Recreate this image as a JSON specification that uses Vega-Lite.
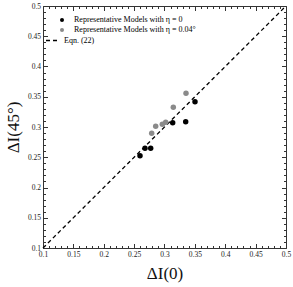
{
  "$schema": "https://vega.github.io/schema/vega-lite/v6.json",
  "width": 243,
  "height": 242,
  "autosize": {"type": "none"},
  "padding": {"left": 43, "top": 6, "right": 7, "bottom": 39},
  "background": "white",
  "config": {
    "view": {"stroke": null},
    "font": "Liberation Serif",
    "axis": {
      "grid": false,
      "domainColor": "#333333",
      "domainWidth": 1,
      "tickColor": "#333333",
      "labelFont": "Liberation Serif",
      "labelFontSize": 7.5,
      "labelColor": "#222222",
      "titleFont": "Liberation Serif",
      "titleFontWeight": "normal",
      "titleFontSize": 17,
      "titleColor": "#111111",
      "labelPadding": 7,
      "labelFlush": false,
      "labelOverlap": false
    },
    "legend": {
      "labelFont": "Liberation Serif",
      "labelFontSize": 8,
      "labelColor": "#000000",
      "padding": 0
    }
  },
  "datasets": {
    "pts": [
      {"x": 0.2597, "y": 0.2526, "series": "Representative Models with η = 0"},
      {"x": 0.2679, "y": 0.2648, "series": "Representative Models with η = 0"},
      {"x": 0.2773, "y": 0.2648, "series": "Representative Models with η = 0"},
      {"x": 0.3135, "y": 0.3071, "series": "Representative Models with η = 0"},
      {"x": 0.3349, "y": 0.3088, "series": "Representative Models with η = 0"},
      {"x": 0.3502, "y": 0.3418, "series": "Representative Models with η = 0"},
      {"x": 0.2789, "y": 0.2896, "series": "Representative Models with η = 0.04°"},
      {"x": 0.2855, "y": 0.3012, "series": "Representative Models with η = 0.04°"},
      {"x": 0.2964, "y": 0.3045, "series": "Representative Models with η = 0.04°"},
      {"x": 0.302, "y": 0.3078, "series": "Representative Models with η = 0.04°"},
      {"x": 0.3145, "y": 0.3326, "series": "Representative Models with η = 0.04°"},
      {"x": 0.3354, "y": 0.3557, "series": "Representative Models with η = 0.04°"}
    ],
    "eqn": [
      {"x": 0.1, "y": 0.1, "series": "Eqn. (22)"},
      {"x": 0.5, "y": 0.5, "series": "Eqn. (22)"}
    ]
  },
  "layer": [
    {
      "data": {"name": "eqn"},
      "mark": {"type": "line", "color": "black", "strokeWidth": 1.3},
      "encoding": {
        "x": {
          "field": "x", "type": "quantitative",
          "scale": {"domain": [0.1, 0.5], "nice": false, "zero": false},
          "axis": {
            "orient": "top", "title": null, "labels": false, "domain": true,
            "values": [0.1,0.11,0.12,0.13,0.14,0.15,0.16,0.17,0.18,0.19,0.2,0.21,0.22,0.23,0.24,0.25,0.26,0.27,0.28,0.29,0.3,0.31,0.32,0.33,0.34,0.35,0.36,0.37,0.38,0.39,0.4,0.41,0.42,0.43,0.44,0.45,0.46,0.47,0.48,0.49,0.5],
            "tickSize": {"condition": {"test": "abs(datum.value*20 - round(datum.value*20)) < 0.001", "value": -4.5}, "value": -2.5}
          }
        },
        "y": {
          "field": "y", "type": "quantitative",
          "scale": {"domain": [0.1, 0.5], "nice": false, "zero": false},
          "axis": {
            "orient": "right", "title": null, "labels": false, "domain": true,
            "values": [0.1,0.11,0.12,0.13,0.14,0.15,0.16,0.17,0.18,0.19,0.2,0.21,0.22,0.23,0.24,0.25,0.26,0.27,0.28,0.29,0.3,0.31,0.32,0.33,0.34,0.35,0.36,0.37,0.38,0.39,0.4,0.41,0.42,0.43,0.44,0.45,0.46,0.47,0.48,0.49,0.5],
            "tickSize": {"condition": {"test": "abs(datum.value*20 - round(datum.value*20)) < 0.001", "value": -4.5}, "value": -2.5}
          }
        },
        "strokeDash": {
          "field": "series", "type": "nominal",
          "scale": {"domain": ["Eqn. (22)"], "range": [[4, 3]]},
          "legend": {
            "title": null, "orient": "none", "legendX": 2, "legendY": 27,
            "symbolSize": 169, "symbolStrokeWidth": 1.5, "symbolStrokeColor": "black",
            "symbolDash": [4, 3],
            "labelOffset": 4
          }
        }
      }
    },
    {
      "data": {"name": "pts"},
      "mark": {"type": "point", "filled": true, "shape": "circle", "size": 30, "opacity": 1},
      "encoding": {
        "x": {
          "field": "x", "type": "quantitative",
          "scale": {"domain": [0.1, 0.5], "nice": false, "zero": false},
          "axis": {
            "orient": "bottom", "title": "ΔI(0)", "titlePadding": 5,
            "values": [0.1,0.11,0.12,0.13,0.14,0.15,0.16,0.17,0.18,0.19,0.2,0.21,0.22,0.23,0.24,0.25,0.26,0.27,0.28,0.29,0.3,0.31,0.32,0.33,0.34,0.35,0.36,0.37,0.38,0.39,0.4,0.41,0.42,0.43,0.44,0.45,0.46,0.47,0.48,0.49,0.5],
            "labelExpr": "abs(datum.value*20 - round(datum.value*20)) < 0.001 ? format(datum.value, '~g') : ''",
            "tickSize": {"condition": {"test": "abs(datum.value*20 - round(datum.value*20)) < 0.001", "value": -4.5}, "value": -2.5}
          }
        },
        "y": {
          "field": "y", "type": "quantitative",
          "scale": {"domain": [0.1, 0.5], "nice": false, "zero": false},
          "axis": {
            "orient": "left", "title": "ΔI(45°)", "titlePadding": 5,
            "values": [0.1,0.11,0.12,0.13,0.14,0.15,0.16,0.17,0.18,0.19,0.2,0.21,0.22,0.23,0.24,0.25,0.26,0.27,0.28,0.29,0.3,0.31,0.32,0.33,0.34,0.35,0.36,0.37,0.38,0.39,0.4,0.41,0.42,0.43,0.44,0.45,0.46,0.47,0.48,0.49,0.5],
            "labelExpr": "abs(datum.value*20 - round(datum.value*20)) < 0.001 ? format(datum.value, '~g') : ''",
            "tickSize": {"condition": {"test": "abs(datum.value*20 - round(datum.value*20)) < 0.001", "value": -4.5}, "value": -2.5}
          }
        },
        "color": {
          "field": "series", "type": "nominal",
          "scale": {
            "domain": ["Representative Models with η = 0", "Representative Models with η = 0.04°"],
            "range": ["#000000", "#8a8a8a"]
          },
          "legend": {
            "title": null, "orient": "none", "legendX": 15, "legendY": 10,
            "symbolSize": 16, "symbolType": "circle", "rowPadding": 2, "labelOffset": 8
          }
        }
      }
    }
  ],
  "resolve": {"axis": {"x": "independent", "y": "independent"}}
}
